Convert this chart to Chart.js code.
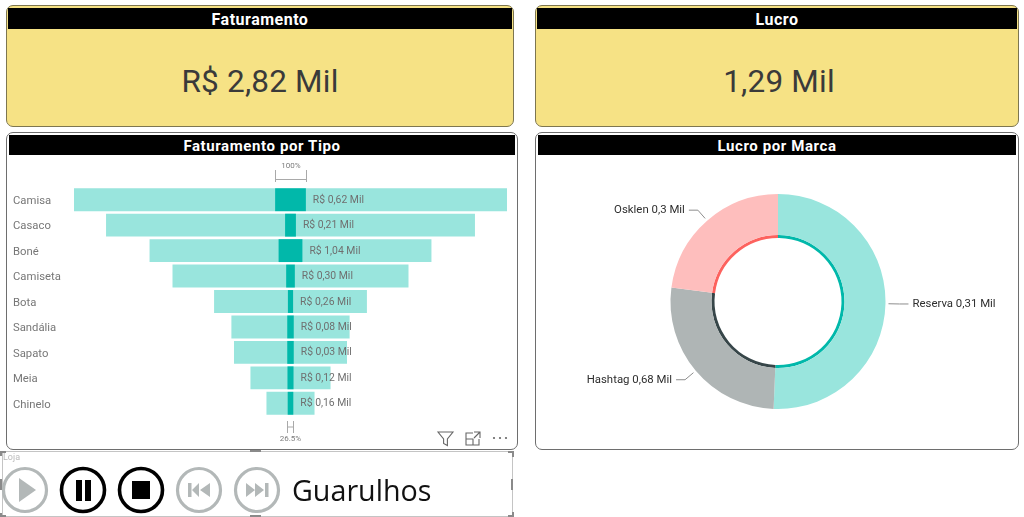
<!DOCTYPE html>
<html lang="pt-BR"><head><meta charset="utf-8">
<script src="https://cdn.jsdelivr.net/npm/chart.js@4"></script>
<style>
html,body{margin:0;padding:0;background:#fff;width:1024px;height:517px;overflow:hidden}
body{position:relative;font-family:Roboto,sans-serif}
.card{position:absolute;box-sizing:border-box;border:1px solid #6e6e6e;border-radius:7px}
.yellow{background:#F6E285;border-color:#7d7650}
.hd{position:absolute;background:#000;color:#fff;text-align:center;font-weight:700}
.kpi{position:absolute;text-align:center;color:#3a3a3a;font-size:31.5px;line-height:40px;letter-spacing:.2px}
canvas{position:absolute}
svg{position:absolute;overflow:visible}
#loja{position:absolute;left:3px;top:452px;font:9px Roboto,sans-serif;color:#bbb}
#cur{position:absolute;left:292px;top:469px;font:28.7px/42px "Open Sans",sans-serif;color:#111}
</style></head><body>
<div class="card yellow" style="left:6px;top:5px;width:508px;height:122px"></div>
<div class="hd" style="left:8px;top:8px;width:504px;height:21px;font-size:16px;line-height:23px;letter-spacing:.5px" id="t1"></div>
<div class="kpi" style="left:8px;top:62px;width:504px" id="v1"></div>
<div class="card yellow" style="left:535px;top:5px;width:484px;height:122px"></div>
<div class="hd" style="left:537px;top:8px;width:480px;height:21px;font-size:16px;line-height:23px;letter-spacing:.5px" id="t2"></div>
<div class="kpi" style="left:537px;top:62px;width:484px" id="v2"></div>
<div class="card" style="left:6px;top:132px;width:512px;height:318px"></div>
<div class="hd" style="left:9px;top:135px;width:506px;height:20px;font-size:15px;line-height:22px;letter-spacing:.6px" id="t3"></div>
<div class="card" style="left:535px;top:132px;width:484px;height:318px"></div>
<div class="hd" style="left:538px;top:135px;width:478px;height:20px;font-size:15px;line-height:22px;letter-spacing:.6px" id="t4"></div>
<canvas id="funnel" style="left:8px;top:155px;width:507px;height:293px"></canvas>
<canvas id="donut" style="left:538px;top:194px;width:480px;height:215px"></canvas>

<svg style="left:0;top:0" width="1024" height="517" fill="none">
  <!-- icones do cartao -->
  <path d="M438 432h15l-5.6 7v6.5l-3.8-2v-4.5z" stroke="#666" stroke-width="1.1"/>
  <path d="M473 433h-7v12h13v-6M466 439h7v6M474 432h6v6M480 432l-6 6" stroke="#666" stroke-width="1.1"/>
  <g fill="#666"><circle cx="494" cy="438" r="1.1"/><circle cx="500" cy="438" r="1.1"/><circle cx="506" cy="438" r="1.1"/></g>
  <!-- moldura do reprodutor -->
  <rect x="2.5" y="451.5" width="510" height="65" stroke="#c4c4c4"/>
  <g stroke="#8a8a8a" stroke-width="2">
    <path d="M1 456v-4h5M508 452h5v5M1 513v3h5M508 516h5v-4"/>
    <path d="M250 451h11M250 516h11M512 479v11M1 479v11"/>
  </g>
  <!-- botoes -->
  <circle cx="25" cy="490" r="21.5" stroke="#b3b8b8" stroke-width="3.2"/>
  <path d="M19 478l17 12-17 12z" fill="#b3b8b8"/>
  <circle cx="83" cy="490" r="21.5" stroke="#000" stroke-width="3.6"/>
  <path d="M76 480h6v21h-6zM85 480h6v21h-6z" fill="#000"/>
  <circle cx="141" cy="490" r="21.5" stroke="#000" stroke-width="3.6"/>
  <path d="M132 481h18v18h-18z" fill="#000"/>
  <circle cx="199" cy="490" r="21.5" stroke="#b3b8b8" stroke-width="3.2"/>
  <path d="M188 483h3.5v14H188zM199 483v14l-7-7zM210 483v14l-10-7z" fill="#b3b8b8"/>
  <circle cx="257" cy="490" r="21.5" stroke="#b3b8b8" stroke-width="3.2"/>
  <path d="M246 483l9 7-9 7zM255 483l9 7-9 7zM265 483h3.5v14H265z" fill="#b3b8b8"/>
</svg>
<div id="loja"></div><div id="cur"></div>

<script>
const kpiTitles = ["Faturamento", "Lucro"];
const kpiValues = ["R$ 2,82 Mil", "1,29 Mil"];
const chartTitles = ["Faturamento por Tipo", "Lucro por Marca"];
const tipos = ["Camisa","Casaco","Boné","Camiseta","Bota","Sandália","Sapato","Meia","Chinelo"];
const faixaClara = [100, 85.2, 65.1, 54.5, 35.3, 27.3, 26.1, 18.5, 11.1];
const faixaEscura = [7.1, 2.5, 5.5, 2.0, 1.2, 1.5, 1.5, 1.4, 1.3];
const rotulosTipo = ["R$ 0,62 Mil","R$ 0,21 Mil","R$ 1,04 Mil","R$ 0,30 Mil","R$ 0,26 Mil","R$ 0,08 Mil","R$ 0,03 Mil","R$ 0,12 Mil","R$ 0,16 Mil"];
const funilTopo = "100%";
const funilBase = "26.5%";
const marcas = ["Reserva","Hashtag","Osklen"];
const marcaFatias = [50.6, 26.4, 22.9];
const rotulosMarca = ["Reserva 0,31 Mil","Hashtag 0,68 Mil","Osklen 0,3 Mil"];
const campoNome = "Loja";
const campoValor = "Guarulhos";

const FONT = "Roboto, sans-serif";
document.getElementById("t1").textContent = kpiTitles[0];
document.getElementById("t2").textContent = kpiTitles[1];
document.getElementById("v1").textContent = kpiValues[0];
document.getElementById("v2").textContent = kpiValues[1];
document.getElementById("t3").textContent = chartTitles[0];
document.getElementById("t4").textContent = chartTitles[1];
document.getElementById("loja").textContent = campoNome;
document.getElementById("cur").textContent = campoValor;

const funnelDecor = {
  id: "funnelDecor",
  afterDatasetsDraw(chart) {
    const c = chart.ctx, x = chart.scales.x, top = chart.getDatasetMeta(0).data;
    c.save();
    c.font = "10.4px " + FONT; c.fillStyle = "#6f6f6f";
    c.textAlign = "left"; c.textBaseline = "middle";
    top.forEach((bar, i) => {
      c.fillText(rotulosTipo[i], x.getPixelForValue(faixaEscura[i] / 2) + 7, bar.y + 0.5);
    });
    c.strokeStyle = "#a9a9a9"; c.lineWidth = 1;
    const a0 = Math.round(x.getPixelForValue(-faixaEscura[0] / 2)) + .5;
    const a1 = Math.round(x.getPixelForValue(faixaEscura[0] / 2)) + .5;
    const yA = chart.chartArea.top;
    c.beginPath();
    c.moveTo(a0, yA - 17); c.lineTo(a0, yA - 5);
    c.moveTo(a1, yA - 17); c.lineTo(a1, yA - 5);
    c.moveTo(a0, yA - 7.5); c.lineTo(a1, yA - 7.5);
    const n = faixaEscura.length - 1;
    const b0 = Math.round(x.getPixelForValue(-faixaEscura[n] / 2)) - .5;
    const b1 = Math.round(x.getPixelForValue(faixaEscura[n] / 2)) + .5;
    const yB = chart.chartArea.bottom;
    c.moveTo(b0, yB + 5); c.lineTo(b0, yB + 17);
    c.moveTo(b1, yB + 5); c.lineTo(b1, yB + 17);
    c.moveTo(b0, yB + 11); c.lineTo(b1, yB + 11);
    c.stroke();
    c.font = "8px " + FONT; c.fillStyle = "#7c7c7c"; c.textAlign = "center";
    c.fillText(funilTopo, (a0 + a1) / 2, yA - 21);
    c.fillText(funilBase, (b0 + b1) / 2, yB + 23);
    c.restore();
  }
};

new Chart(document.getElementById("funnel"), {
  type: "bar",
  data: {
    labels: tipos,
    datasets: [
      { data: faixaEscura.map(v => [-v / 2, v / 2]), backgroundColor: "#01B8AA", grouped: false, barPercentage: .9, categoryPercentage: 1 },
      { data: faixaClara.map(v => [-v / 2, v / 2]), backgroundColor: "#99E5DD", grouped: false, barPercentage: .9, categoryPercentage: 1 }
    ]
  },
  options: {
    indexAxis: "y", responsive: false, animation: false,
    layout: { padding: { top: 32, bottom: 32, right: 8, left: 5 } },
    plugins: { legend: { display: false }, tooltip: { enabled: false } },
    scales: {
      x: { display: false, min: -50, max: 50 },
      y: {
        grid: { display: false }, border: { display: false },
        afterFit(s) { s.width = 61; s.paddingTop = 0; s.paddingBottom = 0; },
        ticks: { crossAlign: "far", padding: 0, labelOffset: 1.5, color: "#777", font: { family: FONT, size: 11.3 }, autoSkip: false }
      }
    }
  },
  plugins: [funnelDecor]
});

const donutLeaders = {
  id: "donutLeaders",
  afterDatasetsDraw(chart) {
    const c = chart.ctx, arcs = chart.getDatasetMeta(0).data;
    c.save();
    c.font = "11.4px " + FONT; c.textBaseline = "middle";
    arcs.forEach((a, i) => {
      const mid = (a.startAngle + a.endAngle) / 2, R = a.outerRadius;
      const cs = Math.cos(mid), sn = Math.sin(mid);
      const x1 = a.x + (R + 3) * cs, y1 = a.y + (R + 3) * sn;
      const x2 = a.x + (R + 14) * cs, y2 = a.y + (R + 14) * sn;
      const dir = cs >= 0 ? 1 : -1;
      c.strokeStyle = "#8d8d8d"; c.lineWidth = 1;
      c.beginPath(); c.moveTo(x1, y1); c.lineTo(x2, y2); c.lineTo(x2 + dir * 9, y2); c.stroke();
      c.fillStyle = "#2e2e2e"; c.textAlign = dir > 0 ? "left" : "right";
      c.fillText(rotulosMarca[i], x2 + dir * 13, y2);
    });
    c.restore();
  }
};

new Chart(document.getElementById("donut"), {
  type: "doughnut",
  data: {
    labels: marcas,
    datasets: [
      { data: marcaFatias, backgroundColor: ["#99E5DD", "#AFB5B5", "#FEBEBD"], borderWidth: 0, weight: 41 },
      { data: marcaFatias, backgroundColor: ["#01B8AA", "#374649", "#FD625E"], borderWidth: 0, weight: 3 }
    ]
  },
  options: {
    responsive: false, animation: false, cutout: 63.5,
    plugins: { legend: { display: false }, tooltip: { enabled: false } }
  },
  plugins: [donutLeaders]
});
</script>
</body></html>
